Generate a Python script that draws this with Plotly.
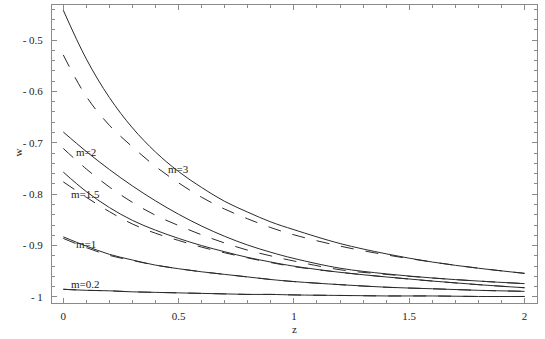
import plotly.graph_objects as go

# ---- data ----
z = [0, 0.1, 0.2, 0.3, 0.4, 0.5, 0.6, 0.7, 0.8, 0.9, 1.0, 1.2, 1.4, 1.6, 1.8, 2.0]

m3_solid = [-0.442, -0.537, -0.612, -0.671, -0.718, -0.756, -0.787, -0.814, -0.835, -0.854, -0.869, -0.896, -0.916, -0.932, -0.944, -0.954]
m3_dash = [-0.529, -0.610, -0.666, -0.708, -0.746, -0.778, -0.806, -0.829, -0.848, -0.865, -0.879, -0.901, -0.918, -0.932, -0.944, -0.954]

m2_solid = [-0.679, -0.717, -0.752, -0.784, -0.813, -0.839, -0.862, -0.882, -0.899, -0.913, -0.925, -0.944, -0.955, -0.963, -0.969, -0.974]
m2_dash = [-0.711, -0.751, -0.786, -0.816, -0.841, -0.861, -0.879, -0.895, -0.909, -0.920, -0.930, -0.947, -0.956, -0.963, -0.969, -0.974]

m15_solid = [-0.757, -0.795, -0.826, -0.851, -0.870, -0.886, -0.900, -0.912, -0.923, -0.932, -0.940, -0.952, -0.961, -0.969, -0.976, -0.982]
m15_dash = [-0.776, -0.806, -0.834, -0.858, -0.876, -0.890, -0.903, -0.914, -0.924, -0.933, -0.941, -0.952, -0.961, -0.969, -0.976, -0.982]

m1_solid = [-0.883, -0.901, -0.917, -0.928, -0.938, -0.945, -0.951, -0.956, -0.961, -0.966, -0.970, -0.976, -0.981, -0.984, -0.987, -0.989]
m1_dash = [-0.886, -0.904, -0.919, -0.929, -0.938, -0.945, -0.951, -0.956, -0.961, -0.966, -0.970, -0.976, -0.981, -0.984, -0.987, -0.989]

m02_solid = [-0.985, -0.987, -0.988, -0.990, -0.991, -0.992, -0.993, -0.994, -0.995, -0.995, -0.996, -0.997, -0.998, -0.998, -0.999, -0.999]
m02_dash = [-0.985, -0.987, -0.988, -0.990, -0.991, -0.992, -0.993, -0.994, -0.995, -0.995, -0.996, -0.997, -0.998, -0.998, -0.999, -0.999]

curve_labels = ["m=3", "m=2", "m=1.5", "m=1", "m=0.2"]
label_z = [0.50, 0.10, 0.098, 0.10, 0.098]
label_w = [-0.751, -0.717, -0.800, -0.896, -0.974]

x_tickvals = [0, 0.5, 1, 1.5, 2]
x_ticktext = ["0", "0.5", "1", "1.5", "2"]
y_tickvals = [-0.5, -0.6, -0.7, -0.8, -0.9, -1.0]
y_ticktext = ["- 0.5", "- 0.6", "- 0.7", "- 0.8", "- 0.9", "- 1"]

x_title = "z"
y_title = "w"

# ---- figure ----
FONT = "'Liberation Serif', 'Times New Roman', serif"
TEXT_COLOR = "#222"
LINE_COLOR = "#2a2a2a"
FRAME_COLOR = "#8a8a8a"
DASH = "13px,12px"

fig = go.Figure()
pairs = [(m3_solid, m3_dash), (m2_solid, m2_dash), (m15_solid, m15_dash),
         (m1_solid, m1_dash), (m02_solid, m02_dash)]
for solid, dashed in pairs:
    fig.add_trace(go.Scatter(x=z, y=dashed, mode="lines", line_shape="spline",
                             line=dict(color=LINE_COLOR, width=1, dash=DASH),
                             showlegend=False, hoverinfo="skip"))
    fig.add_trace(go.Scatter(x=z, y=solid, mode="lines", line_shape="spline",
                             line=dict(color=LINE_COLOR, width=1),
                             showlegend=False, hoverinfo="skip"))

for txt, lx, ly in zip(curve_labels, label_z, label_w):
    fig.add_annotation(x=lx, y=ly, text=txt, showarrow=False,
                       font=dict(family=FONT, size=11, color=TEXT_COLOR),
                       xanchor="center", yanchor="middle")

# axis titles as paper annotations (keeps the frame exactly where it is)
fig.add_annotation(xref="paper", yref="paper", x=0.5, y=-0.087, text=x_title,
                   showarrow=False, xanchor="center", yanchor="middle",
                   font=dict(family=FONT, size=11, color=TEXT_COLOR))
fig.add_annotation(xref="paper", yref="paper", x=-0.072, y=0.505, text=y_title,
                   showarrow=False, xanchor="center", yanchor="middle", textangle=-90,
                   font=dict(family=FONT, size=11, color=TEXT_COLOR))

axis_common = dict(showline=True, linecolor=FRAME_COLOR, linewidth=1, mirror="ticks",
                   ticks="inside", tickcolor=FRAME_COLOR, ticklen=5, tickwidth=1,
                   showgrid=False, zeroline=False, automargin=False,
                   tickfont=dict(family=FONT, size=11, color=TEXT_COLOR))

fig.update_xaxes(range=[-0.049, 2.054], tickmode="array", tickvals=x_tickvals, ticktext=x_ticktext,
                 minor=dict(tickmode="linear", tick0=0, dtick=0.1, ticks="inside", ticklen=3,
                            tickcolor=FRAME_COLOR, showgrid=False),
                 ticklabelstandoff=3,
                 **axis_common)
fig.update_yaxes(range=[-1.0117, -0.4318], tickmode="array", tickvals=y_tickvals, ticktext=y_ticktext,
                 minor=dict(tickmode="linear", tick0=0, dtick=0.02, ticks="inside", ticklen=3,
                            tickcolor=FRAME_COLOR, showgrid=False),
                 ticklabelstandoff=6,
                 **axis_common)

fig.update_layout(width=545, height=339, margin=dict(l=52, r=8, t=5, b=36),
                  paper_bgcolor="white", plot_bgcolor="white")

fig.write_html("out.html", config={"displayModeBar": False},
               post_script="document.body.style.margin='0px';document.body.style.overflow='hidden';")
